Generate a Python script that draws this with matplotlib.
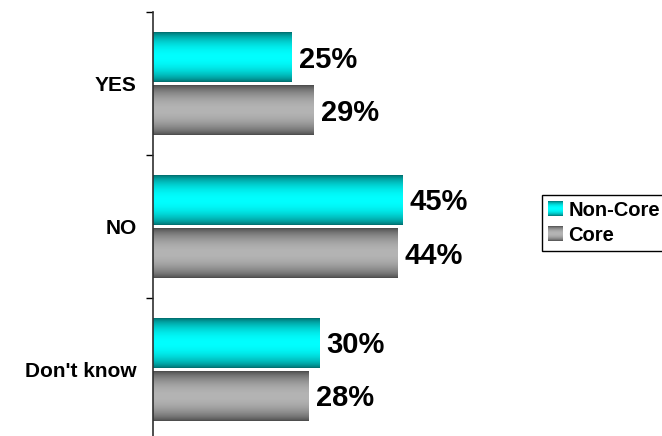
import matplotlib

matplotlib.use("Agg")
import matplotlib.pyplot as plt
import numpy as np
from matplotlib.image import BboxImage
from matplotlib.legend_handler import HandlerBase
from matplotlib.patches import Patch
from matplotlib.transforms import Bbox, TransformedBbox

plt.rcParams["font.family"] = ["Liberation Sans", "DejaVu Sans"]
plt.rcParams["font.weight"] = "bold"

categories = ["YES", "NO", "Don't know"]
non_core = [25, 45, 30]
core = [29, 44, 28]
series_names = ["Non-Core", "Core"]

CYAN_DARK = np.array([0, 110, 110]) / 255
CYAN_LIGHT = np.array([0, 255, 255]) / 255
GRAY_DARK = np.array([75, 75, 75]) / 255
GRAY_LIGHT = np.array([180, 180, 180]) / 255


def _gradient(dark: np.ndarray, light: np.ndarray, n: int = 64) -> np.ndarray:
    t = np.linspace(0, 1, n)
    weight = np.sin(np.pi * t) ** 0.7
    rows = dark + (light - dark) * weight[:, None]
    return rows[:, None, :]


class GradientHandler(HandlerBase):
    def __init__(self, image: np.ndarray):
        super().__init__()
        self.image = image

    def create_artists(self, legend, orig_handle, xdescent, ydescent, width, height, fontsize, trans):
        bbox = TransformedBbox(Bbox.from_bounds(-xdescent, -ydescent, width, height), trans)
        img = BboxImage(bbox, interpolation="bilinear")
        img.set_data(self.image)
        return [img]


cyan_img = _gradient(CYAN_DARK, CYAN_LIGHT)
gray_img = _gradient(GRAY_DARK, GRAY_LIGHT)

fig = plt.figure(figsize=(6.62, 4.36), dpi=100)
fig.patch.set_facecolor("white")
ax = fig.add_axes([153.3 / 662, -4.5 / 436, 333 / 662, 428.5 / 436])

positions = np.arange(len(categories))
bar_height = 0.35
offset = 0.186

for values, shift, image in ((non_core, -offset, cyan_img), (core, offset, gray_img)):
    bars = ax.barh(positions + shift, values, height=bar_height, color="none", linewidth=0)
    for bar, value in zip(bars, values):
        x0, y0 = bar.get_x(), bar.get_y()
        w, h = bar.get_width(), bar.get_height()
        ax.imshow(image, extent=(x0, x0 + w, y0 + h, y0), aspect="auto",
                  interpolation="bilinear", zorder=2)
        ax.annotate(f"{value}%", (x0 + w, y0 + h / 2), xytext=(5, -2),
                    textcoords="offset points", ha="left", va="center",
                    fontsize=21, fontweight="bold", color="black")

ax.set_xlim(0, 60)
ax.set_ylim(len(categories) - 0.5, -0.5)

ax.set_yticks(positions)
ax.set_yticklabels(categories, fontsize=15, fontweight="bold")
ax.set_yticks(np.arange(len(categories) + 1) - 0.5, minor=True)
ax.tick_params(axis="y", which="major", length=0, pad=12)
ax.tick_params(axis="y", which="minor", length=5, width=1, direction="out")
ax.set_xticks([])

for side in ("top", "right", "bottom"):
    ax.spines[side].set_visible(False)
ax.spines["left"].set_linewidth(1.2)
ax.spines["left"].set_color("#303030")
ax.set_facecolor("none")

handles = [Patch(label=series_names[0]), Patch(label=series_names[1])]
legend = fig.legend(
    handles=handles,
    handler_map={handles[0]: GradientHandler(cyan_img), handles[1]: GradientHandler(gray_img)},
    loc="upper left",
    bbox_to_anchor=(542 / 662, 1 - 195 / 436),
    borderaxespad=0,
    prop={"weight": "bold", "size": 14.5},
    frameon=True,
    fancybox=False,
    framealpha=1,
    edgecolor="black",
    handlelength=0.7,
    handleheight=0.7,
    handletextpad=0.3,
    labelspacing=0.3,
    borderpad=0.3,
)
legend.get_frame().set_linewidth(1.0)

fig.savefig("out.png", dpi=100)
plt.close(fig)
